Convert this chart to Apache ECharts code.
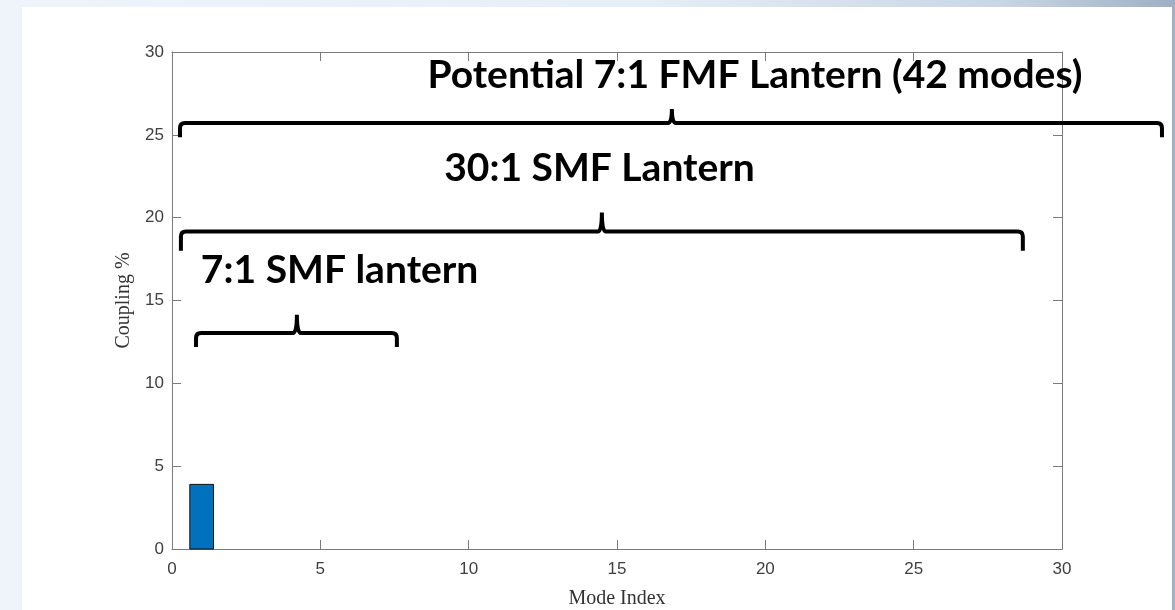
<!DOCTYPE html>
<html>
<head>
<meta charset="utf-8">
<script src="https://cdn.jsdelivr.net/npm/echarts@6/dist/echarts.min.js"></script>
<style>
  html, body { margin: 0; padding: 0; }
  body {
    width: 1175px; height: 610px; position: relative; overflow: hidden;
    background: linear-gradient(to right, #eef4fa 0%, #e6eef7 55%, #c9d6e4 85%, #9fb0c4 100%);
  }
  #panel { position: absolute; left: 22px; top: 7px; width: 1150px; height: 603px; background: #fff; }
  #chart { position: absolute; left: 0; top: 0; width: 1175px; height: 610px; }
</style>
</head>
<body>
<div id="panel"></div>
<div id="chart"></div>
<script>
// bar data (Mode Index -> Coupling %)
const modeIndex = [1]
const coupling = [3.9]

const xTicks = [0, 5, 10, 15, 20, 25, 30]
const yTicks = [0, 5, 10, 15, 20, 25, 30]

// brace annotations, in data units
const braceLabels = ['Potential 7:1 FMF Lantern (42 modes)', '30:1 SMF Lantern', '7:1 SMF lantern']
const braceStart = [0.27, 0.3, 0.81]
const braceEnd = [33.37, 28.68, 7.58]
const braceLevel = [25.71, 19.16, 13.04]
const braceTip = [16.85, 14.49, 4.21]
const braceLegDepth = [0.85, 1.15, 0.85]
const braceTipDepth = [0.85, 1.15, 1.1]
const labelX = [19.65, 14.41, 5.65]
const labelY = [28.58, 23.0, 16.84]

const chart = echarts.init(document.getElementById('chart'))

const axisGray = '#7a7a7a'
const tickText = { color: '#404040', fontFamily: 'Liberation Sans', fontSize: 17 }

const baseX = {
  type: 'value', min: xTicks[0], max: xTicks[xTicks.length - 1], interval: 5,
  axisLine: { show: true, onZero: false, lineStyle: { color: axisGray, width: 1 } },
  axisTick: { show: true, inside: true, length: 9, lineStyle: { color: axisGray } },
  splitLine: { show: false }
}
const baseY = {
  type: 'value', min: yTicks[0], max: yTicks[yTicks.length - 1], interval: 5,
  axisLine: { show: true, onZero: false, lineStyle: { color: axisGray, width: 1 } },
  axisTick: { show: true, inside: true, length: 9, lineStyle: { color: axisGray } },
  splitLine: { show: false }
}

const barData = modeIndex.map((m, i) => [m, coupling[i]])
const braceData = braceLabels.map((_, i) => [
  braceStart[i], braceEnd[i], braceLevel[i], braceTip[i], braceLegDepth[i], braceTipDepth[i]
])
const labelData = braceLabels.map((t, i) => [labelX[i], labelY[i], t])

chart.setOption({
  animation: false,
  grid: { left: 172, top: 52, right: 113, bottom: 61, containLabel: false, outerBoundsMode: 'none' },
  xAxis: [
    Object.assign({}, baseX, {
      position: 'bottom',
      axisLabel: Object.assign({ margin: 12 }, tickText),
      name: 'Mode Index', nameLocation: 'middle', nameGap: 40,
      nameTextStyle: { fontFamily: 'Liberation Serif', fontSize: 20, color: '#333' }
    }),
    Object.assign({}, baseX, { position: 'top', axisLabel: { show: false } })
  ],
  yAxis: [
    Object.assign({}, baseY, {
      position: 'left',
      axisLabel: Object.assign({ margin: 8 }, tickText),
      name: 'Coupling %', nameLocation: 'middle', nameGap: 31,
      nameTextStyle: { fontFamily: 'Liberation Serif', fontSize: 20, color: '#333' }
    }),
    Object.assign({}, baseY, { position: 'right', axisLabel: { show: false } })
  ],
  series: [
    {
      type: 'custom',
      data: barData,
      renderItem: (params, api) => {
        const top = api.coord([api.value(0), api.value(1)])
        const base = api.coord([api.value(0), 0])
        const w = api.size([0.8, 0])[0]
        return {
          type: 'rect',
          shape: { x: top[0] - w / 2, y: top[1], width: w, height: base[1] - top[1] },
          style: { fill: '#0072BD', stroke: '#111', lineWidth: 1 }
        }
      }
    },
    {
      type: 'custom',
      clip: false,
      silent: true,
      data: braceData,
      renderItem: (params, api) => {
        const a = api.coord([api.value(0), api.value(2)])
        const b = api.coord([api.value(1), api.value(2)])
        const c = api.coord([api.value(3), api.value(2)])
        const leg = api.size([0, api.value(4)])[1]
        const tip = api.size([0, api.value(5)])[1]
        const y = a[1], r = 5, k = 4
        const path = [
          'M', a[0], y + leg,
          'L', a[0], y + r,
          'Q', a[0], y, a[0] + r, y,
          'L', c[0] - k, y,
          'Q', c[0], y, c[0], y - tip,
          'Q', c[0], y, c[0] + k, y,
          'L', b[0] - r, y,
          'Q', b[0], y, b[0], y + r,
          'L', b[0], y + leg
        ].join(' ')
        return {
          type: 'path',
          shape: { pathData: path },
          style: { fill: 'none', stroke: '#000', lineWidth: 4 }
        }
      }
    },
    {
      type: 'custom',
      clip: false,
      silent: true,
      data: labelData,
      renderItem: (params, api) => {
        const p = api.coord([api.value(0), api.value(1)])
        return {
          type: 'text',
          x: p[0], y: p[1],
          style: {
            text: labelData[params.dataIndex][2],
            fill: '#000', font: 'bold 39px Lato',
            align: 'center', verticalAlign: 'middle'
          }
        }
      }
    }
  ]
})
</script>
</body>
</html>
